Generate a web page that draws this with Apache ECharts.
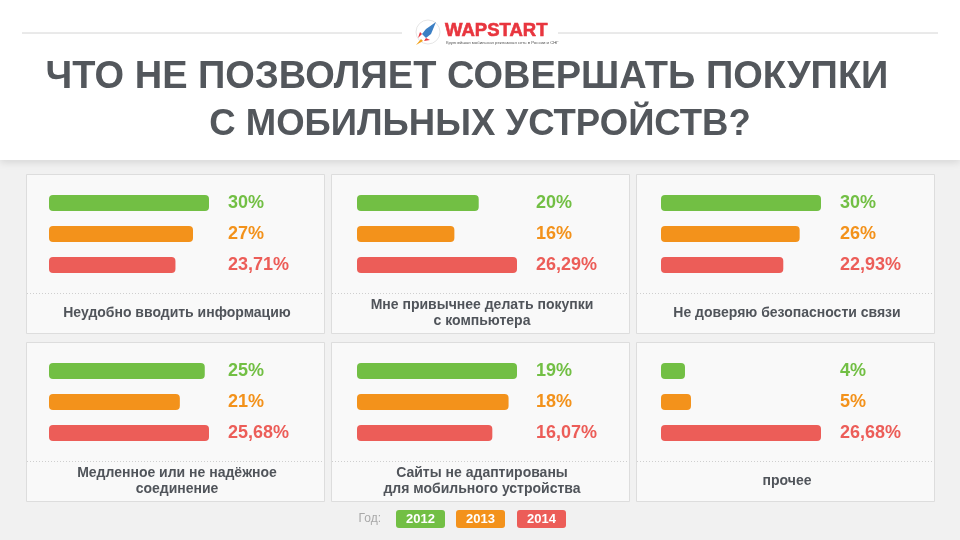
<!DOCTYPE html>
<html><head><meta charset="utf-8">
<script src="https://cdn.jsdelivr.net/npm/echarts@6/dist/echarts.min.js"></script>
<style>html,body{margin:0;padding:0;background:#f1f1f1}#c{width:960px;height:540px}</style>
</head><body><div id="c"></div>
<script>
const years = ['2012', '2013', '2014'];
const categories = [
  'Неудобно вводить информацию',
  'Мне привычнее делать покупки\nс компьютера',
  'Не доверяю безопасности связи',
  'Медленное или не надёжное\nсоединение',
  'Сайты не адаптированы\nдля мобильного устройства',
  'прочее'
];
const values2012 = [30, 20, 30, 25, 19, 4];
const values2013 = [27, 16, 26, 21, 18, 5];
const values2014 = [23.71, 26.29, 22.93, 25.68, 16.07, 26.68];
const titleLines = ['ЧТО НЕ ПОЗВОЛЯЕТ СОВЕРШАТЬ ПОКУПКИ', 'С МОБИЛЬНЫХ УСТРОЙСТВ?'];

const colors = ['#72bf44', '#f3921b', '#ec5d58'];
const FONT = "'Liberation Sans', Arial, sans-serif";
const panelX = [26, 331, 636];
const panelY = [174, 342];
const panelW = 298, panelH = 159;
const barLeft = [49, 357, 661];

function fmt(v) { return String(v).replace('.', ',') + '%'; }

const grids = [], xAxes = [], yAxes = [], series = [], graphics = [];

// header
graphics.push({type:'rect', shape:{x:0,y:0,width:960,height:160}, style:{fill:'#ffffff', shadowBlur:8, shadowColor:'rgba(0,0,0,0.12)', shadowOffsetY:2}, z:0});
graphics.push({type:'line', shape:{x1:22,y1:33,x2:402,y2:33}, style:{stroke:'#d4d4d4', lineWidth:1}, z:1});
graphics.push({type:'line', shape:{x1:558,y1:33,x2:938,y2:33}, style:{stroke:'#d4d4d4', lineWidth:1}, z:1});
// logo
graphics.push({type:'circle', shape:{cx:428,cy:32,r:12}, style:{fill:'#ffffff', stroke:'#e6e6e6', lineWidth:1}, z:1});
graphics.push({type:'polygon', shape:{points:[[436,22],[431,34],[426,38],[422,34],[426,29]]}, style:{fill:'#3b7fc4'}, z:2});
graphics.push({type:'polygon', shape:{points:[[422,34],[418,38],[420,32]]}, style:{fill:'#e8353e'}, z:2});
graphics.push({type:'polygon', shape:{points:[[426,38],[430,40],[424,41]]}, style:{fill:'#e8353e'}, z:2});
graphics.push({type:'polygon', shape:{points:[[421,39],[416,45],[423,41]]}, style:{fill:'#f3a21b'}, z:2});
graphics.push({type:'text', style:{x:445, y:31, text:'WAPSTART', font:"900 18.5px "+FONT, fill:'#e8353e', textVerticalAlign:'middle', stroke:'#e8353e', lineWidth:0.6}, z:2});
graphics.push({type:'text', style:{x:446, y:43, text:'Крупнейшая мобильная рекламная сеть в России и СНГ', font:"4.3px "+FONT, fill:'#555', textVerticalAlign:'middle'}, z:2});
// title
const titleX = [467, 480], titleSize = [38, 36.5];
titleLines.forEach((t, i) => {
  graphics.push({type:'text', style:{x:titleX[i], y:78 + i*47, text:t, font:"bold " + titleSize[i] + "px "+FONT, fill:'#53575c', textAlign:'center', textVerticalAlign:'middle'}, z:2});
});

// panels
for (let p = 0; p < 6; p++) {
  const col = p % 3, row = Math.floor(p / 3);
  const px = panelX[col], py = panelY[row];
  graphics.push({type:'rect', shape:{x:px+0.5,y:py+0.5,width:panelW,height:panelH}, style:{fill:'#f9f9f9', stroke:'#dddddd', lineWidth:1}, z:1});
  graphics.push({type:'line', shape:{x1:px+1,y1:py+119.5,x2:px+panelW,y2:py+119.5}, style:{stroke:'#cfcfcf', lineWidth:1, lineDash:[1,2]}, z:2});
  graphics.push({type:'text', style:{x:px+panelW/2+2, y:py+139, text:categories[p], font:"bold 14px "+FONT, fill:'#50545a', textAlign:'center', textVerticalAlign:'middle', lineHeight:16}, z:2});

  const vals = [values2012[p], values2013[p], values2014[p]];
  grids.push({left: barLeft[col], top: py + 13.5, width: 160, height: 93});
  xAxes.push({type:'value', gridIndex:p, min:0, max:Math.max(...vals), show:false});
  yAxes.push({type:'category', gridIndex:p, data:years, inverse:true, show:false});
  series.push({
    type:'bar', xAxisIndex:p, yAxisIndex:p, barWidth:16, z:5,
    data: vals.map((v, i) => ({value:v, itemStyle:{color:colors[i], borderRadius:4},
      label:{color:colors[i]}})),
    label:{show:true, position:[179, '50%'], verticalAlign:'middle', align:'left',
      fontWeight:'bold', fontSize:18, fontFamily:FONT,
      formatter: (d) => fmt(d.value)},
    silent:true, animation:false
  });
}

// legend
graphics.push({type:'text', style:{x:381, y:519, text:'Год:', font:"12px "+FONT, fill:'#a8a8a8', textAlign:'right', textVerticalAlign:'middle'}, z:2});
years.forEach((y, i) => {
  const lx = [396, 456, 517][i];
  graphics.push({type:'rect', shape:{x:lx, y:510, width:49, height:18, r:3}, style:{fill:colors[i]}, z:2});
  graphics.push({type:'text', style:{x:lx+24.5, y:519, text:y, font:"bold 13px "+FONT, fill:'#ffffff', textAlign:'center', textVerticalAlign:'middle'}, z:3});
});

const chart = echarts.init(document.getElementById('c'), null, {renderer:'canvas'});
chart.setOption({
  backgroundColor:'#f1f1f1',
  animation:false,
  grid:grids, xAxis:xAxes, yAxis:yAxes, series:series,
  graphic:{elements:graphics}
});
</script></body></html>
